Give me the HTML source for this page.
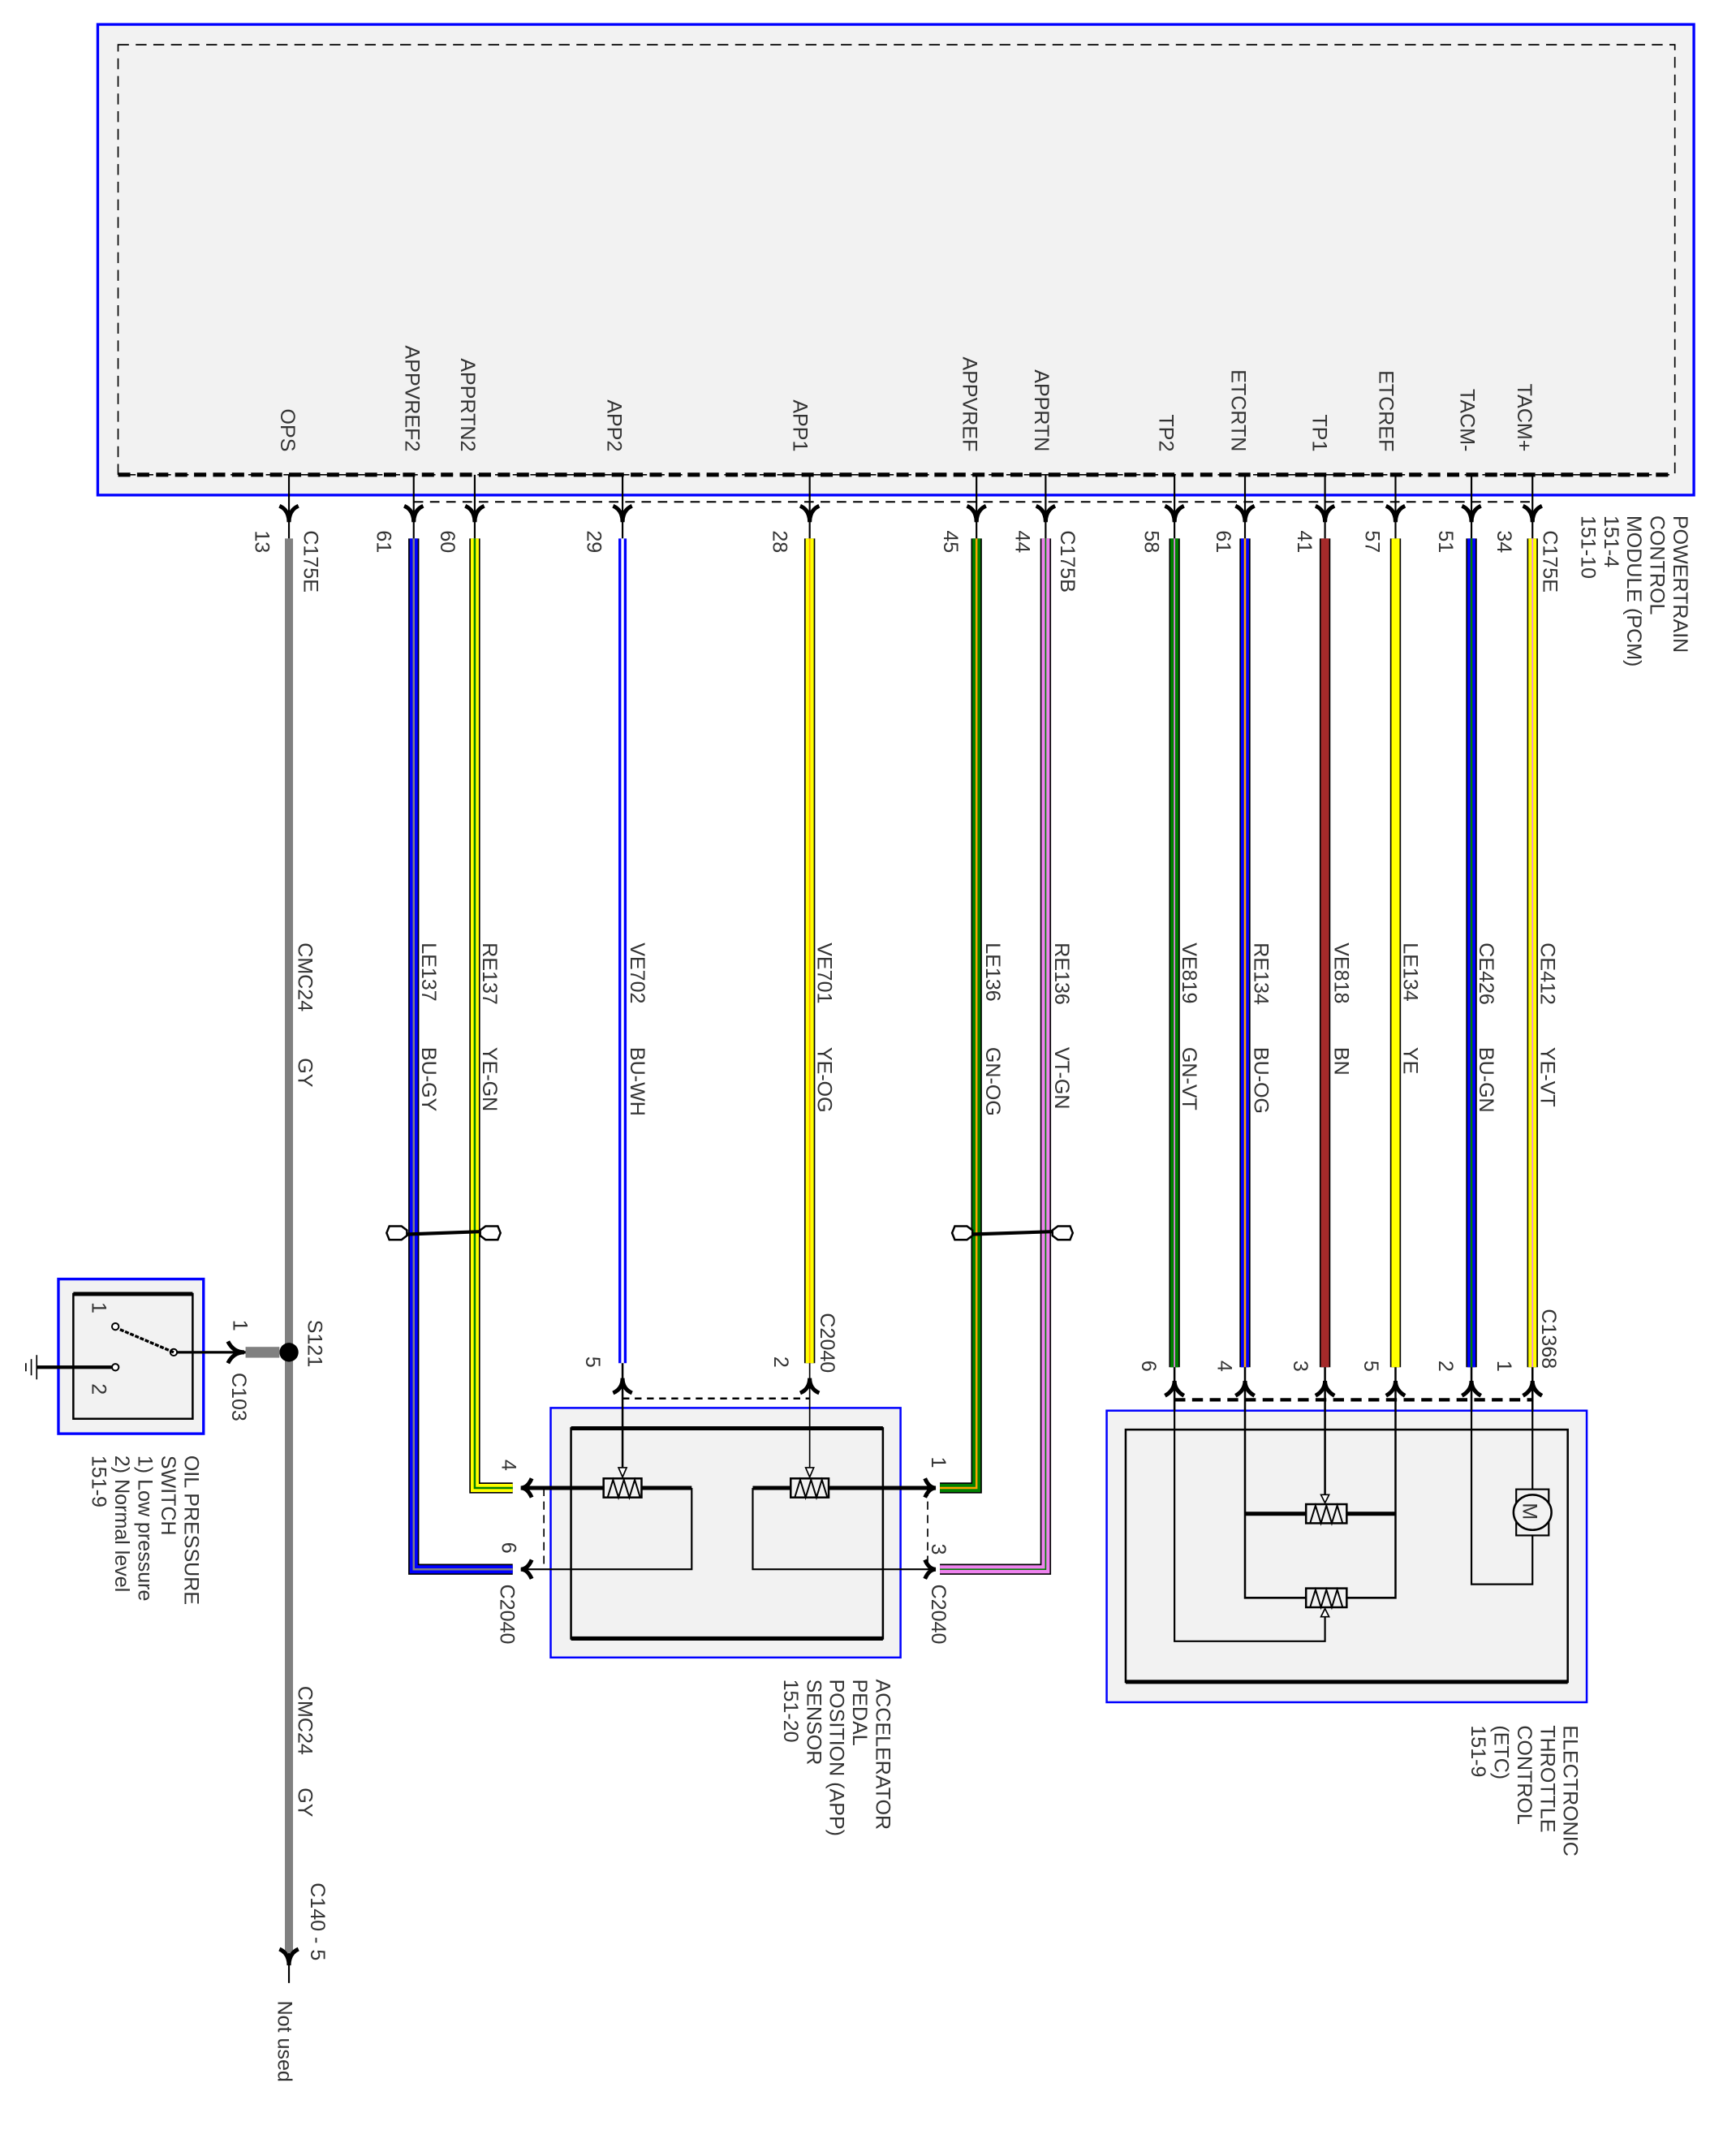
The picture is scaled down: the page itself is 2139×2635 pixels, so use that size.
<!DOCTYPE html>
<html><head><meta charset="utf-8"><style>
html,body{margin:0;padding:0;background:#fff;}
svg{display:block;}
text{font-family:"Liberation Sans",sans-serif;font-size:15px;fill:#333;}
</style></head><body>
<svg width="2139" height="2635" viewBox="0 0 1280 1577" xmlns="http://www.w3.org/2000/svg">
<!-- PCM -->
<rect x="72" y="18" width="1177" height="347" fill="#f2f2f2" stroke="#0000ff" stroke-width="2"/>
<rect x="87" y="33" width="1148" height="317" fill="none" stroke="#000" stroke-width="1" stroke-dasharray="8,5"/>
<line x1="87" y1="350" x2="1235" y2="350" stroke="#000" stroke-width="3" stroke-dasharray="9,5"/>
<line x1="305" y1="370" x2="1130" y2="370" stroke="#000" stroke-width="1.2" stroke-dasharray="7,5"/>

<!-- pin stubs and arrows at PCM -->
<g stroke="#000" fill="none">
<g stroke-width="1.3">
<line x1="213" y1="350" x2="213" y2="397"/><line x1="305" y1="350" x2="305" y2="397"/><line x1="350" y1="350" x2="350" y2="397"/>
<line x1="459" y1="350" x2="459" y2="397"/><line x1="597" y1="350" x2="597" y2="397"/><line x1="720" y1="350" x2="720" y2="397"/>
<line x1="771" y1="350" x2="771" y2="397"/><line x1="866" y1="350" x2="866" y2="397"/><line x1="918" y1="350" x2="918" y2="397"/>
<line x1="977" y1="350" x2="977" y2="397"/><line x1="1029" y1="350" x2="1029" y2="397"/><line x1="1085" y1="350" x2="1085" y2="397"/>
<line x1="1130" y1="350" x2="1130" y2="397"/>
</g>
<g stroke-width="3">
<path d="M206,373 Q213,376 213,385 Q213,376 220,373"/>
<path d="M298,373 Q305,376 305,385 Q305,376 312,373"/>
<path d="M343,373 Q350,376 350,385 Q350,376 357,373"/>
<path d="M452,373 Q459,376 459,385 Q459,376 466,373"/>
<path d="M590,373 Q597,376 597,385 Q597,376 604,373"/>
<path d="M713,373 Q720,376 720,385 Q720,376 727,373"/>
<path d="M764,373 Q771,376 771,385 Q771,376 778,373"/>
<path d="M859,373 Q866,376 866,385 Q866,376 873,373"/>
<path d="M911,373 Q918,376 918,385 Q918,376 925,373"/>
<path d="M970,373 Q977,376 977,385 Q977,376 984,373"/>
<path d="M1022,373 Q1029,376 1029,385 Q1029,376 1036,373"/>
<path d="M1078,373 Q1085,376 1085,385 Q1085,376 1092,373"/>
<path d="M1123,373 Q1130,376 1130,385 Q1130,376 1137,373"/>
</g>
</g>

<!-- OPS wire -->
<line x1="213" y1="397" x2="213" y2="1440" stroke="#808080" stroke-width="6"/>
<line x1="213" y1="1440" x2="213" y2="1462" stroke="#000" stroke-width="1.3"/>
<path d="M206,1437 Q213,1440 213,1449 Q213,1440 220,1437" stroke="#000" stroke-width="3" fill="none"/>

<!-- wires with border -->
<g fill="none" stroke-linejoin="miter">
<!-- BU-GY -->
<polyline points="305,397 305,1157 378,1157" stroke="#000" stroke-width="8"/>
<polyline points="305,397 305,1157 378,1157" stroke="#0000ff" stroke-width="6"/>
<polyline points="305,397 305,1157 378,1157" stroke="#808080" stroke-width="1.5"/>
<!-- YE-GN -->
<polyline points="350,397 350,1097 378,1097" stroke="#000" stroke-width="8"/>
<polyline points="350,397 350,1097 378,1097" stroke="#ffff00" stroke-width="6"/>
<polyline points="350,397 350,1097 378,1097" stroke="#008000" stroke-width="1.5"/>
<!-- BU-WH -->
<line x1="459" y1="397" x2="459" y2="1005" stroke="#0000ff" stroke-width="6"/>
<line x1="459" y1="397" x2="459" y2="1005" stroke="#fff" stroke-width="2"/>
<!-- YE-OG -->
<line x1="597" y1="397" x2="597" y2="1005" stroke="#000" stroke-width="8"/>
<line x1="597" y1="397" x2="597" y2="1005" stroke="#ffff00" stroke-width="6"/>
<line x1="597" y1="397" x2="597" y2="1005" stroke="#ffa500" stroke-width="1"/>
<!-- GN-OG -->
<polyline points="720,397 720,1097 693,1097" stroke="#000" stroke-width="8"/>
<polyline points="720,397 720,1097 693,1097" stroke="#008000" stroke-width="6"/>
<polyline points="720,397 720,1097 693,1097" stroke="#ffa500" stroke-width="1.5"/>
<!-- VT-GN -->
<polyline points="771,397 771,1157 693,1157" stroke="#000" stroke-width="8"/>
<polyline points="771,397 771,1157 693,1157" stroke="#ee82ee" stroke-width="6"/>
<polyline points="771,397 771,1157 693,1157" stroke="#008000" stroke-width="1"/>
<!-- ETC wires -->
<line x1="866" y1="397" x2="866" y2="1008" stroke="#000" stroke-width="8"/>
<line x1="866" y1="397" x2="866" y2="1008" stroke="#008000" stroke-width="6"/>
<line x1="866" y1="397" x2="866" y2="1008" stroke="#ee82ee" stroke-width="1"/>
<line x1="918" y1="397" x2="918" y2="1008" stroke="#000" stroke-width="8"/>
<line x1="918" y1="397" x2="918" y2="1008" stroke="#0000ff" stroke-width="6"/>
<line x1="918" y1="397" x2="918" y2="1008" stroke="#ffa500" stroke-width="1.5"/>
<line x1="977" y1="397" x2="977" y2="1008" stroke="#000" stroke-width="8"/>
<line x1="977" y1="397" x2="977" y2="1008" stroke="#a52a2a" stroke-width="6"/>
<line x1="1029" y1="397" x2="1029" y2="1008" stroke="#000" stroke-width="8"/>
<line x1="1029" y1="397" x2="1029" y2="1008" stroke="#ffff00" stroke-width="6"/>
<line x1="1085" y1="397" x2="1085" y2="1008" stroke="#000" stroke-width="8"/>
<line x1="1085" y1="397" x2="1085" y2="1008" stroke="#0000ff" stroke-width="6"/>
<line x1="1085" y1="397" x2="1085" y2="1008" stroke="#008000" stroke-width="1.5"/>
<line x1="1130" y1="397" x2="1130" y2="1008" stroke="#000" stroke-width="8"/>
<line x1="1130" y1="397" x2="1130" y2="1008" stroke="#ffff00" stroke-width="6"/>
<line x1="1130" y1="397" x2="1130" y2="1008" stroke="#ee82ee" stroke-width="1"/>
</g>

<!-- twisted pair symbols -->
<g stroke="#000" fill="#fff" stroke-width="1.5">
<path d="M287,904 L296,904 L300,907 L300,911 L296,914 L287,914 L285,909 Z"/>
<path d="M367,904 L358,904 L354,907 L354,911 L358,914 L367,914 L369,909 Z"/>
<path d="M704,904 L713,904 L717,907 L717,911 L713,914 L704,914 L702,909 Z"/>
<path d="M789,904 L780,904 L776,907 L776,911 L780,914 L789,914 L791,909 Z"/>
</g>
<g stroke="#000" stroke-width="2.5">
<line x1="300" y1="910" x2="354" y2="908"/>
<line x1="717" y1="910" x2="776" y2="908"/>
</g>

<!-- Oil pressure switch -->
<rect x="43" y="943" width="107" height="114" fill="#f2f2f2" stroke="#0000ff" stroke-width="2"/>
<rect x="54" y="954" width="88" height="92" fill="none" stroke="#000" stroke-width="1.5"/>
<line x1="54" y1="954" x2="142" y2="954" stroke="#000" stroke-width="3"/>
<circle cx="213" cy="997" r="7" fill="#000"/>
<rect x="181" y="993" width="25" height="8" fill="#808080"/>
<line x1="128" y1="997" x2="181" y2="997" stroke="#000" stroke-width="2"/>
<path d="M168,989 Q172,997 180,997 Q172,997 168,1005" stroke="#000" stroke-width="3" fill="none"/>
<circle cx="128" cy="997" r="2.5" fill="#fff" stroke="#000" stroke-width="1.2"/>
<line x1="128" y1="997" x2="88" y2="980" stroke="#000" stroke-width="2" stroke-dasharray="3,1"/>
<circle cx="85" cy="978" r="2.5" fill="#fff" stroke="#000" stroke-width="1.2"/>
<circle cx="85" cy="1008" r="2.5" fill="#fff" stroke="#000" stroke-width="1.2"/>
<line x1="27" y1="1008" x2="83" y2="1008" stroke="#000" stroke-width="2.5"/>
<line x1="27" y1="999" x2="27" y2="1017" stroke="#000" stroke-width="1"/>
<line x1="23" y1="1002" x2="23" y2="1014" stroke="#000" stroke-width="1"/>
<line x1="19" y1="1005" x2="19" y2="1011" stroke="#000" stroke-width="1"/>

<!-- APP sensor -->
<rect x="406" y="1038" width="258" height="184" fill="#f2f2f2" stroke="#0000ff" stroke-width="1.5"/>
<rect x="421" y="1053" width="230" height="155" fill="none" stroke="#000" stroke-width="1.5"/>
<line x1="421" y1="1053" x2="651" y2="1053" stroke="#000" stroke-width="3"/>
<line x1="421" y1="1208" x2="651" y2="1208" stroke="#000" stroke-width="3"/>
<line x1="459" y1="1031" x2="597" y2="1031" stroke="#000" stroke-width="1.5" stroke-dasharray="5,4"/>
<line x1="401" y1="1097" x2="401" y2="1157" stroke="#000" stroke-width="1" stroke-dasharray="6,4"/>
<line x1="684" y1="1097" x2="684" y2="1157" stroke="#000" stroke-width="1" stroke-dasharray="6,4"/>
<g stroke="#000" fill="none">
<line x1="384" y1="1097" x2="510" y2="1097" stroke-width="3"/>
<polyline points="510,1097 510,1157 384,1157" stroke-width="1.3"/>
<line x1="555" y1="1097" x2="690" y2="1097" stroke-width="3"/>
<polyline points="555,1097 555,1157 690,1157" stroke-width="1.3"/>
<line x1="459" y1="1005" x2="459" y2="1085" stroke-width="1.5"/>
<line x1="597" y1="1005" x2="597" y2="1085" stroke-width="1"/>
<path d="M452,1027 Q459,1024 459,1016 Q459,1024 466,1027" stroke-width="3"/>
<path d="M590,1027 Q597,1024 597,1016 Q597,1024 604,1027" stroke-width="3"/>
<path d="M392,1090 Q389,1097 384,1097 Q389,1097 392,1104" stroke-width="3"/>
<path d="M392,1150 Q389,1157 384,1157 Q389,1157 392,1164" stroke-width="3"/>
<path d="M682,1090 Q685,1097 690,1097 Q685,1097 682,1104" stroke-width="3"/>
<path d="M682,1150 Q685,1157 690,1157 Q685,1157 682,1164" stroke-width="3"/>
<rect x="445" y="1090" width="28" height="14" fill="#f2f2f2" stroke-width="1.5"/>
<polyline points="448,1104 452,1091 456,1104 460,1091 464,1104 468,1091 472,1104" stroke-width="1.2"/>
<rect x="583" y="1090" width="28" height="14" fill="#f2f2f2" stroke-width="1.5"/>
<polyline points="586,1104 590,1091 594,1104 598,1091 602,1104 606,1091 610,1104" stroke-width="1.2"/>
</g>
<path d="M456,1082 L462,1082 L459,1089 Z" fill="#fff" stroke="#000"/>
<path d="M594,1082 L600,1082 L597,1089 Z" fill="#fff" stroke="#000"/>

<!-- ETC -->
<rect x="816" y="1040" width="354" height="215" fill="#f2f2f2" stroke="#0000ff" stroke-width="1.5"/>
<rect x="830" y="1054" width="326" height="186" fill="none" stroke="#000" stroke-width="1.5"/>
<line x1="830" y1="1240" x2="1156" y2="1240" stroke="#000" stroke-width="3"/>
<line x1="866" y1="1032" x2="1130" y2="1032" stroke="#000" stroke-width="2.5" stroke-dasharray="8,5"/>
<g stroke="#000" fill="none">
<g stroke-width="1.5">
<line x1="866" y1="1008" x2="866" y2="1040"/><line x1="918" y1="1008" x2="918" y2="1040"/><line x1="977" y1="1008" x2="977" y2="1040"/>
<line x1="1029" y1="1008" x2="1029" y2="1040"/><line x1="1085" y1="1008" x2="1085" y2="1040"/><line x1="1130" y1="1008" x2="1130" y2="1040"/>
</g>
<g stroke-width="3">
<path d="M859,1029 Q866,1025 866,1018 Q866,1025 873,1029"/>
<path d="M911,1029 Q918,1025 918,1018 Q918,1025 925,1029"/>
<path d="M970,1029 Q977,1025 977,1018 Q977,1025 984,1029"/>
<path d="M1022,1029 Q1029,1025 1029,1018 Q1029,1025 1036,1029"/>
<path d="M1078,1029 Q1085,1025 1085,1018 Q1085,1025 1092,1029"/>
<path d="M1123,1029 Q1130,1025 1130,1018 Q1130,1025 1137,1029"/>
</g>
<polyline points="866,1040 866,1210 977,1210 977,1190" stroke-width="1.3"/>
<polyline points="918,1040 918,1178 1029,1178 1029,1040" stroke-width="1.5"/>
<line x1="918" y1="1116" x2="1029" y2="1116" stroke-width="3"/>
<line x1="977" y1="1040" x2="977" y2="1105" stroke-width="1.5"/>
<polyline points="1085,1040 1085,1168 1130,1168 1130,1132" stroke-width="1.3"/>
<line x1="1130" y1="1040" x2="1130" y2="1098" stroke-width="1.3"/>
<rect x="963" y="1109" width="30" height="14" fill="#f2f2f2" stroke-width="1.5"/>
<polyline points="966,1123 970,1110 974,1123 978,1110 982,1123 986,1110 990,1123" stroke-width="1.2"/>
<rect x="963" y="1171" width="30" height="14" fill="#f2f2f2" stroke-width="1.5"/>
<polyline points="966,1185 970,1172 974,1185 978,1172 982,1185 986,1172 990,1185" stroke-width="1.2"/>
<rect x="1118" y="1098" width="24" height="34" fill="#f2f2f2" stroke-width="1.3"/>
<ellipse cx="1130" cy="1115" rx="14" ry="13" fill="#f2f2f2" stroke-width="1.5"/>
</g>
<path d="M974,1102 L980,1102 L977,1108 Z" fill="#fff" stroke="#000"/>
<path d="M974,1192 L980,1192 L977,1186 Z" fill="#fff" stroke="#000"/>
<text transform="translate(1123,1108) rotate(90)" style="font-size:15px">M</text>

<!-- Rotated labels -->
<g>
<!-- PCM label -->
<text transform="translate(1234,380) rotate(90)">POWERTRAIN</text>
<text transform="translate(1217,380) rotate(90)">CONTROL</text>
<text transform="translate(1200,380) rotate(90)">MODULE (PCM)</text>
<text transform="translate(1183,380) rotate(90)">151-4</text>
<text transform="translate(1166,380) rotate(90)">151-10</text>

<!-- pin names -->
<g text-anchor="end">
<text transform="translate(1119,333) rotate(90)">TACM+</text>
<text transform="translate(1077,333) rotate(90)">TACM-</text>
<text transform="translate(1017,333) rotate(90)">ETCREF</text>
<text transform="translate(968,333) rotate(90)">TP1</text>
<text transform="translate(908,333) rotate(90)">ETCRTN</text>
<text transform="translate(855,333) rotate(90)">TP2</text>
<text transform="translate(763,333) rotate(90)">APPRTN</text>
<text transform="translate(710,333) rotate(90)">APPVREF</text>
<text transform="translate(585,333) rotate(90)">APP1</text>
<text transform="translate(448,333) rotate(90)">APP2</text>
<text transform="translate(340,333) rotate(90)">APPRTN2</text>
<text transform="translate(299,333) rotate(90)">APPVREF2</text>
<text transform="translate(207,333) rotate(90)">OPS</text>
</g>

<!-- connectors / pin numbers top -->
<text transform="translate(1138,391) rotate(90)">C175E</text>
<text transform="translate(1104,391) rotate(90)">34</text>
<text transform="translate(1061,391) rotate(90)">51</text>
<text transform="translate(1007,391) rotate(90)">57</text>
<text transform="translate(957,391) rotate(90)">41</text>
<text transform="translate(897,391) rotate(90)">61</text>
<text transform="translate(844,391) rotate(90)">58</text>
<text transform="translate(782,391) rotate(90)">C175B</text>
<text transform="translate(749,391) rotate(90)">44</text>
<text transform="translate(696,391) rotate(90)">45</text>
<text transform="translate(570,391) rotate(90)">28</text>
<text transform="translate(433,391) rotate(90)">29</text>
<text transform="translate(325,391) rotate(90)">60</text>
<text transform="translate(278,391) rotate(90)">61</text>
<text transform="translate(188,391) rotate(90)">13</text>
<text transform="translate(224,391) rotate(90)">C175E</text>

<!-- wire labels -->
<text transform="translate(1136,695) rotate(90)">CE412</text><text transform="translate(1136,772) rotate(90)">YE-VT</text>
<text transform="translate(1091,695) rotate(90)">CE426</text><text transform="translate(1091,772) rotate(90)">BU-GN</text>
<text transform="translate(1035,695) rotate(90)">LE134</text><text transform="translate(1035,772) rotate(90)">YE</text>
<text transform="translate(984,695) rotate(90)">VE818</text><text transform="translate(984,772) rotate(90)">BN</text>
<text transform="translate(925,695) rotate(90)">RE134</text><text transform="translate(925,772) rotate(90)">BU-OG</text>
<text transform="translate(872,695) rotate(90)">VE819</text><text transform="translate(872,772) rotate(90)">GN-VT</text>
<text transform="translate(778,695) rotate(90)">RE136</text><text transform="translate(778,772) rotate(90)">VT-GN</text>
<text transform="translate(727,695) rotate(90)">LE136</text><text transform="translate(727,772) rotate(90)">GN-OG</text>
<text transform="translate(603,695) rotate(90)">VE701</text><text transform="translate(603,772) rotate(90)">YE-OG</text>
<text transform="translate(465,695) rotate(90)">VE702</text><text transform="translate(465,772) rotate(90)">BU-WH</text>
<text transform="translate(356,695) rotate(90)">RE137</text><text transform="translate(356,772) rotate(90)">YE-GN</text>
<text transform="translate(311,695) rotate(90)">LE137</text><text transform="translate(311,772) rotate(90)">BU-GY</text>
<text transform="translate(220,695) rotate(90)">CMC24</text><text transform="translate(220,780) rotate(90)">GY</text>

<!-- lower connectors -->
<text transform="translate(1137,965) rotate(90)">C1368</text>
<text transform="translate(1104,1003) rotate(90)">1</text>
<text transform="translate(1061,1003) rotate(90)">2</text>
<text transform="translate(1006,1003) rotate(90)">5</text>
<text transform="translate(954,1003) rotate(90)">3</text>
<text transform="translate(898,1003) rotate(90)">4</text>
<text transform="translate(842,1003) rotate(90)">6</text>
<text transform="translate(605,968) rotate(90)">C2040</text>
<text transform="translate(571,1000) rotate(90)">2</text>
<text transform="translate(432,1000) rotate(90)">5</text>
<text transform="translate(370,1076) rotate(90)">4</text>
<text transform="translate(370,1137) rotate(90)">6</text>
<text transform="translate(369,1168) rotate(90)">C2040</text>
<text transform="translate(687,1074) rotate(90)">1</text>
<text transform="translate(687,1138) rotate(90)">3</text>
<text transform="translate(687,1168) rotate(90)">C2040</text>

<!-- component labels -->
<text transform="translate(646,1238) rotate(90)">ACCELERATOR</text>
<text transform="translate(629,1238) rotate(90)">PEDAL</text>
<text transform="translate(612,1238) rotate(90)">POSITION (APP)</text>
<text transform="translate(595,1238) rotate(90)">SENSOR</text>
<text transform="translate(578,1238) rotate(90)">151-20</text>

<text transform="translate(1153,1272) rotate(90)">ELECTRONIC</text>
<text transform="translate(1136,1272) rotate(90)">THROTTLE</text>
<text transform="translate(1119,1272) rotate(90)">CONTROL</text>
<text transform="translate(1102,1272) rotate(90)">(ETC)</text>
<text transform="translate(1085,1272) rotate(90)">151-9</text>

<text transform="translate(136,1073) rotate(90)">OIL PRESSURE</text>
<text transform="translate(119,1073) rotate(90)">SWITCH</text>
<text transform="translate(102,1073) rotate(90)">1) Low pressure</text>
<text transform="translate(85,1073) rotate(90)">2) Normal level</text>
<text transform="translate(68,1073) rotate(90)">151-9</text>

<text transform="translate(227,973) rotate(90)">S121</text>
<text transform="translate(172,973) rotate(90)">1</text>
<text transform="translate(171,1012) rotate(90)">C103</text>
<text transform="translate(68,960) rotate(90)">1</text>
<text transform="translate(68,1020) rotate(90)">2</text>

<text transform="translate(220,1243) rotate(90)">CMC24</text>
<text transform="translate(220,1318) rotate(90)">GY</text>
<text transform="translate(229,1388) rotate(90)">C140 - 5</text>
<text transform="translate(205,1475) rotate(90)">Not used</text>
</g>
</svg>
</body></html>
